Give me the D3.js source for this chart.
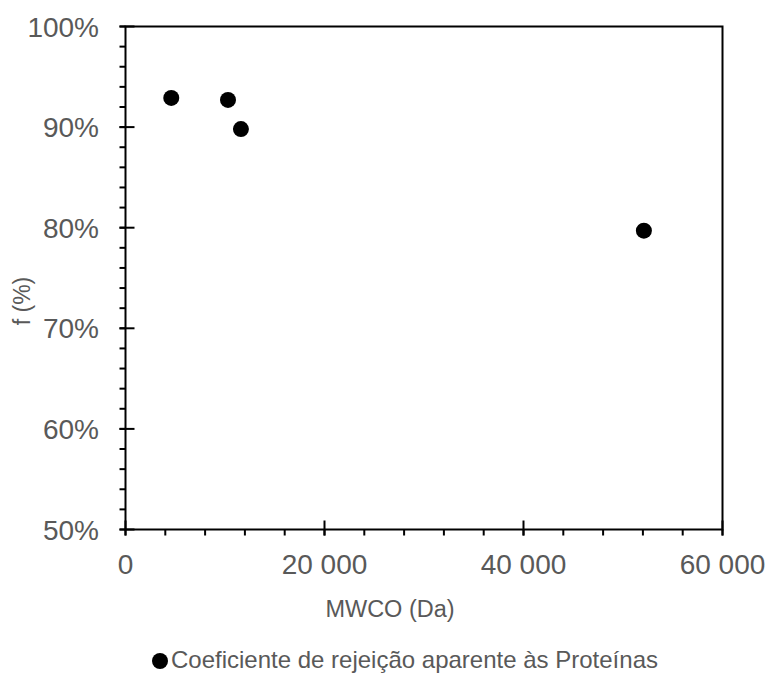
<!DOCTYPE html>
<html>
<head>
<meta charset="utf-8">
<script src="https://cdn.jsdelivr.net/npm/d3@7"></script>
<style>
  body { margin: 0; background: #fff; overflow: hidden; }
  svg { display: block; }
  text { font-family: "Liberation Sans", Arial, sans-serif; }
</style>
</head>
<body>
<script>
var width = 772;
var height = 675;

// data
var mwco = [4600, 10300, 11600, 52100];
var rejection = [0.929, 0.927, 0.898, 0.797];
var xTicks = [0, 20000, 40000, 60000];
var yTicks = [0.5, 0.6, 0.7, 0.8, 0.9, 1.0];
var seriesName = 'Coeficiente de rejeição aparente às Proteínas';

var plotLeft = 125.5, plotRight = 722.5, plotTop = 26.5, plotBottom = 529.5;

var x = d3.scaleLinear().domain([0, 60000]).range([plotLeft, plotRight]);
var y = d3.scaleLinear().domain([0.5, 1.0]).range([plotBottom, plotTop]);

var svg = d3.select('body')
  .append('svg')
  .attr('width', width)
  .attr('height', height);

// plot frame
svg.append('rect')
  .attr('x', plotLeft)
  .attr('y', plotTop)
  .attr('width', plotRight - plotLeft)
  .attr('height', plotBottom - plotTop)
  .attr('fill', 'none')
  .attr('stroke', '#000')
  .attr('stroke-width', 2);

// minor ticks
var xMinor = d3.range(0, 60001, 4000);
svg.selectAll('.xminor')
  .data(xMinor)
  .enter().append('line')
  .attr('x1', function(d) { return x(d); })
  .attr('x2', function(d) { return x(d); })
  .attr('y1', plotBottom)
  .attr('y2', plotBottom + 6)
  .attr('stroke', '#000')
  .attr('stroke-width', 2);

var yMinor = d3.range(0, 26).map(function(i) { return 0.5 + i * 0.02; });
svg.selectAll('.yminor')
  .data(yMinor)
  .enter().append('line')
  .attr('x1', plotLeft - 6)
  .attr('x2', plotLeft)
  .attr('y1', function(d) { return y(d); })
  .attr('y2', function(d) { return y(d); })
  .attr('stroke', '#000')
  .attr('stroke-width', 2);

// major ticks (crossing)
svg.selectAll('.xmajor')
  .data(xTicks)
  .enter().append('line')
  .attr('x1', function(d) { return x(d); })
  .attr('x2', function(d) { return x(d); })
  .attr('y1', plotBottom - 9)
  .attr('y2', plotBottom + 6)
  .attr('stroke', '#000')
  .attr('stroke-width', 2);

svg.selectAll('.ymajor')
  .data(yTicks)
  .enter().append('line')
  .attr('x1', plotLeft - 6)
  .attr('x2', plotLeft + 9)
  .attr('y1', function(d) { return y(d); })
  .attr('y2', function(d) { return y(d); })
  .attr('stroke', '#000')
  .attr('stroke-width', 2);

// tick labels
var fmtX = function(d) { return d === 0 ? '0' : d3.format(',')(d).replace(/,/g, ' '); };
svg.selectAll('.xlabel')
  .data(xTicks)
  .enter().append('text')
  .attr('x', function(d) { return x(d); })
  .attr('y', 574)
  .attr('text-anchor', 'middle')
  .attr('font-size', 28)
  .attr('fill', '#595959')
  .text(fmtX);

svg.selectAll('.ylabel')
  .data(yTicks)
  .enter().append('text')
  .attr('x', 99)
  .attr('y', function(d) { return y(d) + 10; })
  .attr('text-anchor', 'end')
  .attr('font-size', 28)
  .attr('fill', '#595959')
  .text(d3.format('.0%'));

// axis titles
svg.append('text')
  .attr('x', 390)
  .attr('y', 617)
  .attr('text-anchor', 'middle')
  .attr('font-size', 23.5)
  .attr('fill', '#595959')
  .text('MWCO (Da)');

svg.append('text')
  .attr('transform', 'translate(30,301) rotate(-90)')
  .attr('text-anchor', 'middle')
  .attr('font-size', 23)
  .attr('fill', '#595959')
  .text('f (%)');

// points
svg.selectAll('.pt')
  .data(mwco)
  .enter().append('circle')
  .attr('cx', function(d) { return x(d); })
  .attr('cy', function(d, i) { return y(rejection[i]); })
  .attr('r', 8)
  .attr('fill', '#000');

// legend
svg.append('circle')
  .attr('cx', 160)
  .attr('cy', 661)
  .attr('r', 8)
  .attr('fill', '#000');
svg.append('text')
  .attr('x', 171)
  .attr('y', 668)
  .attr('font-size', 24)
  .attr('fill', '#595959')
  .text(seriesName);
</script>
</body>
</html>
